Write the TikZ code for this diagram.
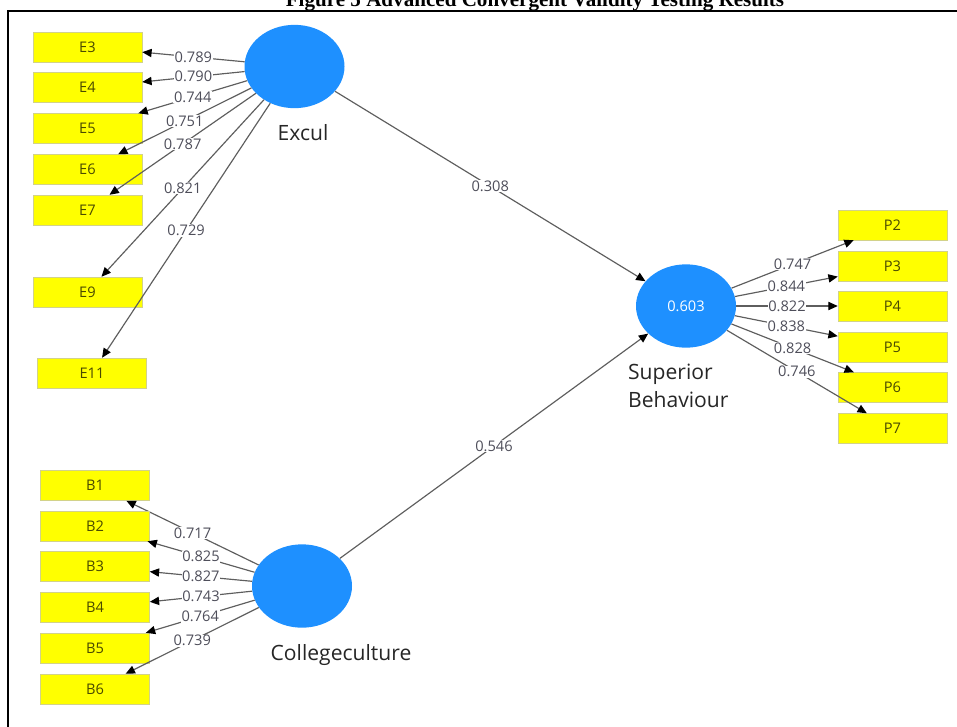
\documentclass[tikz,border=0pt]{standalone}
\usepackage{fontspec}
\usepackage{tikz, xcolor}
\usetikzlibrary{arrows.meta, shapes.geometric}
\newfontfamily\plsfont{Open Sans}
\newfontfamily\titlefont{Liberation Serif}
\definecolor{plsblue}{HTML}{1E90FF}
\definecolor{plsyellow}{HTML}{FFFF00}
\definecolor{plsborder}{HTML}{D2D28A}
\definecolor{plstext}{HTML}{4A4A00}
\definecolor{plsline}{HTML}{5E5E5E}
\definecolor{plslabel}{HTML}{4E4E5A}

\begin{document}
\begin{tikzpicture}[x=0.03cm, y=-0.03cm,
    item/.style={rectangle, draw=plsborder, fill=plsyellow, minimum width=3.27cm, minimum height=0.9cm,
        text=plstext, font=\plsfont\fontsize{12.5}{12.5}\selectfont},
    latent/.style={ellipse, fill=plsblue, minimum width=3cm, minimum height=2.5cm, inner sep=0pt,
        text=white, font=\plsfont\fontsize{12.5}{12.5}\selectfont},
    link/.style={draw=plsline, line width=1pt, -{Triangle[length=8pt, width=7pt, color=black]}},
    load/.style={midway, fill=white, inner sep=0.6pt, text=plslabel, font=\plsfont\fontsize{12.5}{12.5}\selectfont},
    lvname/.style={font=\plsfont\fontsize{18}{24}\selectfont, text=black!85}]
    \useasboundingbox (0,0) rectangle (957,726);
    \node [font=\titlefont\bfseries\fontsize{18}{18}\selectfont, anchor=base] (title) at (535,6.5)
        {Figure 5 Advanced Convergent Validity Testing Results};
    \draw [line width=1.6pt] (8,740) -- (8,11) -- (970,11);

    \node [latent] (excul) at (294.5,66.5) {};
    \node [latent] (superior) at (686,306) {0.603};
    \node [latent] (college) at (302,586) {};
    \node [lvname] (exculname) at (303,133) {Excul};
    \node [lvname, align=left, anchor=north west] (superiorname) at (624,360) {Superior\\Behaviour};
    \node [lvname] (collegename) at (341,655) {Collegeculture};

    % Excul indicators
    \foreach \i/\ypos/\val in {3/47/0.789, 4/87.5/0.790, 5/128.5/0.744, 6/169.5/0.751, 7/210/0.787, 9/292/0.821} {
        \node [item] (E\i) at (87.5,\ypos) {E\i};
        \draw [link] (excul) -- (E\i) node [load] {\val};
    }
    \node [item] (E11) at (92,373) {E11};
    \draw [link] (excul) -- (E11) node [load] {0.729};

    % Collegeculture indicators
    \foreach \i/\ypos/\val in {1/485.5/0.717, 2/526/0.825, 3/566.5/0.827, 4/607.5/0.743, 5/648/0.764, 6/689/0.739} {
        \node [item] (B\i) at (95,\ypos) {B\i};
        \draw [link] (college) -- (B\i) node [load] {\val};
    }

    % Superior Behaviour indicators
    \foreach \i/\ypos/\val in {2/225/0.747, 3/266/0.844, 4/306/0.822, 5/347/0.838, 6/387.5/0.828, 7/428.5/0.746} {
        \node [item] (P\i) at (892.5,\ypos) {P\i};
        \draw [link] (superior) -- (P\i) node [load] {\val};
    }

    % paths
    \draw [link] (excul) -- (superior) node [load] {0.308};
    \draw [link] (college) -- (superior) node [load] {0.546};
\end{tikzpicture}
\end{document}
